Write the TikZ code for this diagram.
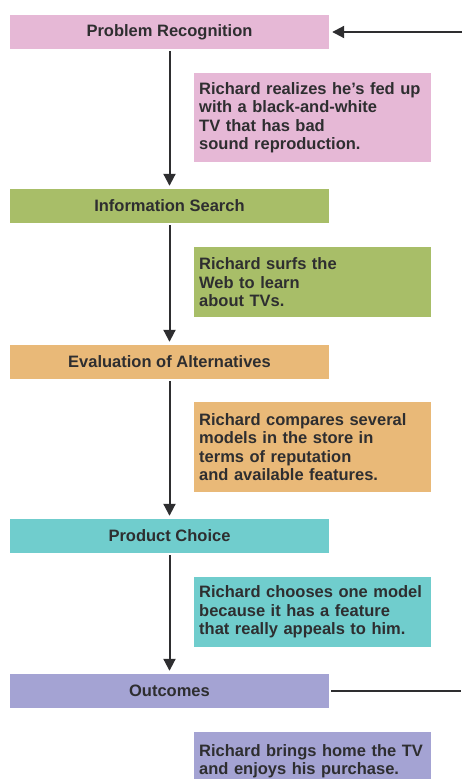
\documentclass[tikz,border=0pt]{standalone}
\usepackage{fontspec}
\setmainfont{Liberation Sans}
\usetikzlibrary{arrows.meta}

\definecolor{recpink}{HTML}{E6B8D6}
\definecolor{searchgreen}{HTML}{A8BE68}
\definecolor{evalorange}{HTML}{E9B978}
\definecolor{choiceteal}{HTML}{70CDCD}
\definecolor{outpurple}{HTML}{A4A3D3}
\definecolor{inkgray}{HTML}{2E2E30}

\begin{document}
\begin{tikzpicture}[x=1pt,y=-1pt]
\useasboundingbox (0,0) rectangle (464,779);

% stage boxes
\begin{scope}[every node/.style={rectangle,minimum width=319pt,minimum height=34pt,inner sep=0pt,
              text=inkgray,font=\bfseries\fontsize{16.5}{19}\selectfont}]
    \node[fill=recpink] (recog) at (169.5,32) {Problem Recognition};
    \node[fill=searchgreen] (search) at (169.5,206) {Information Search};
    \node[fill=evalorange] (evalalt) at (169.5,362) {Evaluation of Alternatives};
    \node[fill=choiceteal] (choice) at (169.5,536) {Product Choice};
    \node[fill=outpurple] (outcome) at (169.5,691) {Outcomes};
\end{scope}

% Richard's story
\begin{scope}[every node/.style={rectangle,anchor=north west,text width=227pt,inner xsep=5pt,inner ysep=0pt,
              align=left,text=inkgray,font=\bfseries\fontsize{16.5}{18.5}\selectfont}]
    \node[fill=recpink,minimum height=89pt] (recogtxt) at (194,73)
        {Richard realizes he’s fed up\\with a black-and-white\\TV that has bad\\sound reproduction.};
    \node[fill=searchgreen,minimum height=70pt] (searchtxt) at (194,247)
        {Richard surfs the\\Web to learn\\about TVs.};
    \node[fill=evalorange,minimum height=90pt] (evaltxt) at (194,402)
        {Richard compares several\\models in the store in\\terms of reputation\\and available features.};
    \node[fill=choiceteal,minimum height=70pt] (choicetxt) at (194,577)
        {Richard chooses one model\\because it has a feature\\that really appeals to him.};
    \node[fill=outpurple,minimum height=58pt] (outtxt) at (194,732)
        {Richard brings home the TV\\and enjoys his purchase.};
\end{scope}

\coordinate (loopin) at (464,32);
\coordinate (loopout) at (464,691);

\begin{scope}[>={Triangle[width=12pt,length=12pt]},
              every edge/.style={draw=inkgray, line width=2pt, shorten >=3pt, shorten <=2pt}]
    \path [->] (recog) edge (search);
    \path [->] (search) edge (evalalt);
    \path [->] (evalalt) edge (choice);
    \path [->] (choice) edge (outcome);
    \path [->] (loopin) edge (recog.east);
    \path (outcome) edge (loopout);
\end{scope}
\end{tikzpicture}
\end{document}
